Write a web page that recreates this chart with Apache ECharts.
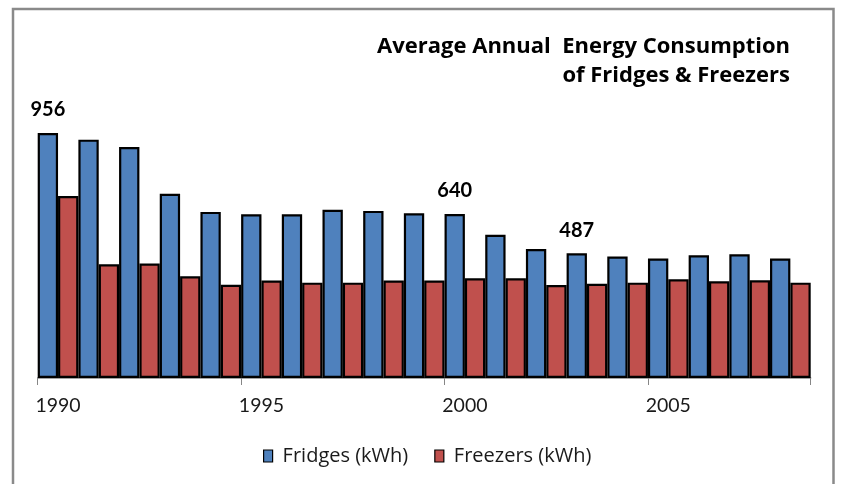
<!DOCTYPE html>
<html>
<head>
<meta charset="utf-8">
<script src="https://cdn.jsdelivr.net/npm/echarts@6/dist/echarts.min.js"></script>
<style>html,body{margin:0;padding:0;background:#fff;}#c{width:842px;height:484px;}</style>
</head>
<body>
<div id="c"></div>
<script>
const years = ['1990','1991','1992','1993','1994','1995','1996','1997','1998','1999','2000','2001','2002','2003','2004','2005','2006','2007','2008'];
const fridges = [956, 930, 901, 719, 648, 639, 639, 656, 652, 643, 640, 559, 503, 487, 474, 466, 479, 483, 466];
const freezers = [710, 444, 447, 397, 364, 380, 372, 372, 380, 380, 389, 389, 363, 368, 372, 385, 377, 381, 372];
const labeledYears = ['1990', '2000', '2003'];
const seriesNames = ['Fridges (kWh)', 'Freezers (kWh)'];
const titleLines = ['Average Annual  Energy Consumption', 'of Fridges & Freezers'];

const FONT = 'Lato, "Open Sans", sans-serif';
const FONT2 = '"Open Sans", Lato, sans-serif';
const GRID_LEFT = 37.7, GRID_RIGHT = 31.3, W = 842;
const BAR_W = (W - GRID_LEFT - GRID_RIGHT) / years.length / 2;
const chart = echarts.init(document.getElementById('c'), null, {renderer: 'canvas'});

const fridgeData = fridges.map((v, i) => labeledYears.includes(years[i])
  ? {value: v, label: {show: true}} : v);

chart.setOption({
  animation: false,
  backgroundColor: '#fff',
  textStyle: {fontFamily: FONT},
  grid: {left: GRID_LEFT, right: GRID_RIGHT, top: 121.7, bottom: 106},
  xAxis: {
    type: 'category',
    data: years,
    boundaryGap: true,
    axisLine: {lineStyle: {color: '#868686', width: 1.5}},
    axisTick: {show: true, interval: 4, length: 7, lineStyle: {color: '#868686', width: 1}},
    axisLabel: {interval: 4, color: '#1a1a1a', fontSize: 19.5, fontFamily: FONT, margin: 18}
  },
  yAxis: {type: 'value', min: 0, max: 1000, show: false, splitLine: {show: false}},
  legend: {
    data: seriesNames,
    left: 258,
    top: 441,
    icon: 'rect',
    itemWidth: 9,
    itemHeight: 12,
    itemGap: 26,
    itemStyle: {borderColor: '#000', borderWidth: 1.2},
    textStyle: {fontSize: 20, color: '#1a1a1a', fontFamily: FONT2, padding: [0, 0, 0, 5]}
  },
  graphic: [
    {type: 'rect', shape: {x: 13, y: 9, width: 820.5, height: 520}, style: {fill: 'none', stroke: '#8a8a8a', lineWidth: 2.5}, silent: true},
    {type: 'text', x: 790, y: 32.5, style: {text: titleLines.join('\n'), align: 'right', verticalAlign: 'top', font: 'bold 22px ' + FONT2, lineHeight: 29, fill: '#000'}}
  ],
  series: [
    {
      name: seriesNames[0], type: 'bar', data: fridgeData,
      barWidth: BAR_W, barMaxWidth: 200, barMinWidth: BAR_W, barGap: '0%', barCategoryGap: '0%',
      itemStyle: {color: '#4F81BD', borderColor: '#000000', borderWidth: 2.2},
      label: {show: false, position: 'top', distance: 13, fontWeight: 'bold', fontSize: 20, color: '#000', fontFamily: FONT}
    },
    {
      name: seriesNames[1], type: 'bar', data: freezers,
      barWidth: BAR_W, barMaxWidth: 200, barMinWidth: BAR_W, barGap: '0%', barCategoryGap: '0%',
      itemStyle: {color: '#C0504D', borderColor: '#000000', borderWidth: 2.2}
    }
  ]
});
</script>
</body>
</html>
